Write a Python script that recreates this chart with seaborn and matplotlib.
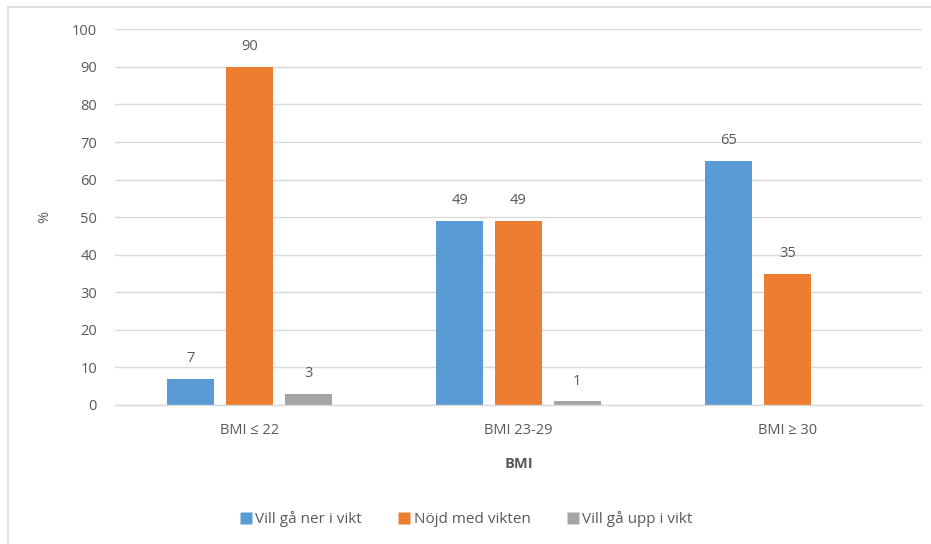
import numpy as np
import pandas as pd
import matplotlib
matplotlib.use("Agg")
import matplotlib.pyplot as plt
from matplotlib.lines import Line2D
import seaborn as sns

# Survey data: share (%) of respondents per BMI group and weight wish
categories = ["BMI \u2264 22", "BMI 23-29", "BMI \u2265 30"]
series_names = ["Vill gå ner i vikt", "Nöjd med vikten", "Vill gå upp i vikt"]
vill_ga_ner = [7, 49, 65]
nojd = [90, 49, 35]
vill_ga_upp = [3, 1, np.nan]
y_ticks = [0, 10, 20, 30, 40, 50, 60, 70, 80, 90, 100]

colors = ["#5B9BD5", "#ED7D31", "#A5A5A5"]
text_color = "#595959"
grid_color = "#D9D9D9"
fs = 10.5

df = pd.DataFrame({
    "BMI": categories * 3,
    "Grupp": [s for s in series_names for _ in categories],
    "Andel": vill_ga_ner + nojd + vill_ga_upp,
}).dropna()

sns.set_theme(style="white")
plt.rcParams["font.family"] = ["Open Sans", "DejaVu Sans"]

fig = plt.figure(figsize=(9.31, 5.44), dpi=100)
ax = fig.add_axes([115 / 931, 1 - 405 / 544, 807 / 931, (405 - 29.3) / 544])

sns.barplot(
    data=df, x="BMI", y="Andel", hue="Grupp",
    order=categories, hue_order=series_names,
    palette=colors, width=0.655, gap=0.2,
    saturation=1, edgecolor="none", legend=False, ax=ax,
)

for cont in ax.containers:
    ax.bar_label(cont, fmt="%g", padding=9, color=text_color, fontsize=fs)

ax.set_ylim(0, 100)
ax.set_xlim(-0.5, 2.5)
ax.set_yticks(y_ticks)
ax.yaxis.grid(True, color=grid_color, linewidth=1)
ax.set_axisbelow(True)
for side in ["top", "right", "left"]:
    ax.spines[side].set_visible(False)
ax.spines["bottom"].set_color(grid_color)
ax.spines["bottom"].set_linewidth(1)
ax.tick_params(axis="both", length=0, colors=text_color, labelsize=fs)
ax.tick_params(axis="y", pad=13)
ax.tick_params(axis="x", pad=13)

ax.set_xlabel("BMI", fontsize=fs, fontweight="bold", color=text_color, labelpad=14)
ax.set_ylabel("%", fontsize=fs, color=text_color, labelpad=14)

handles = [Line2D([], [], marker="s", linestyle="none", markersize=8,
                  markerfacecolor=c, markeredgecolor="none") for c in colors]
fig.legend(handles, series_names, loc="center", bbox_to_anchor=(0.5, 1 - 519 / 544),
           ncol=3, frameon=False, fontsize=11, labelcolor=text_color,
           handletextpad=0.1, columnspacing=2.3, handlelength=1.0)

# Chart-area frame (left and top edges)
fig.add_artist(Line2D([7.5 / 931, 7.5 / 931], [0, 1 - 6.5 / 544],
                      color="#D9D9D9", linewidth=1.2, transform=fig.transFigure))
fig.add_artist(Line2D([7.5 / 931, 1], [1 - 6.5 / 544, 1 - 6.5 / 544],
                      color="#D9D9D9", linewidth=1.2, transform=fig.transFigure))

fig.savefig("out.png", dpi=100, facecolor="white")
